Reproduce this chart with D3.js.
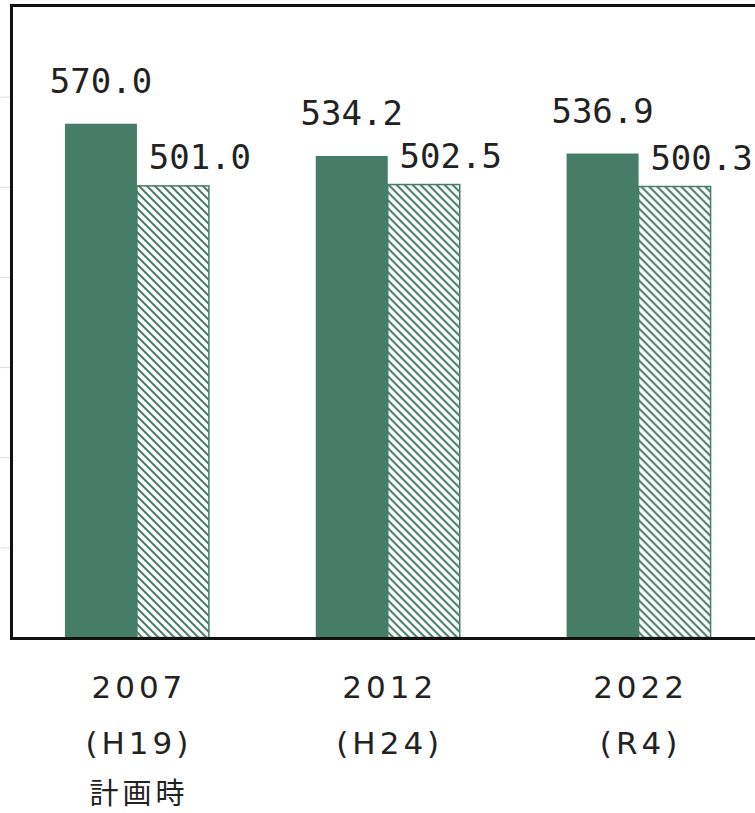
<!DOCTYPE html>
<html><head><meta charset="utf-8">
<script src="https://cdn.jsdelivr.net/npm/d3@7"></script>
<style>
html,body{margin:0;padding:0;background:#fff;}
svg{display:block;}
</style></head>
<body>
<svg id="chart" width="755" height="813"></svg>
<script>
const categories = ["2007", "2012", "2022"];
const catLine2 = ["(H19)", "(H24)", "(R4)"];
const catLine3 = ["計画時", "", ""];
const seriesNames = ["s1", "s2"];
const series1 = [570.0, 534.2, 536.9];
const series2 = [501.0, 502.5, 500.3];
const yTicks = [100, 200, 300, 400, 500, 600];
const yMax = 700;

const green = "#467d69";
const svg = d3.select("#chart");

const plot = {left: 11.5, right: 764, top: 6.5, bottom: 637.5};

const x0 = d3.scaleBand().domain(categories).range([plot.left, plot.right])
  .paddingInner(0.426).paddingOuter(0.213);
const x1 = d3.scaleBand().domain(seriesNames).range([0, x0.bandwidth()]).padding(0);
const y = d3.scaleLinear().domain([0, yMax]).range([plot.bottom, plot.top]);

// hatch pattern
const defs = svg.append("defs");
const pat = defs.append("pattern").attr("id", "hatch")
  .attr("patternUnits", "userSpaceOnUse").attr("width", 8).attr("height", 8);
pat.append("rect").attr("width", 8).attr("height", 8).attr("fill", "#fff");
pat.append("path").attr("d", "M0,0 L8,8 M-2,6 L2,10 M6,-2 L10,2")
  .attr("stroke", green).attr("stroke-width", 2).attr("fill", "none");

// left tick stubs (light gray)
const yAxis = d3.axisLeft(y).tickValues(yTicks).tickSize(11).tickFormat("");
const gy = svg.append("g").attr("transform", `translate(${plot.left},0)`).call(yAxis);
gy.select(".domain").remove();
gy.selectAll(".tick line").attr("stroke", "#dcdcdc").attr("stroke-width", 1);

const data = categories.map((c, i) => ({cat: c, vals: [
  {s: "s1", v: series1[i]}, {s: "s2", v: series2[i]}]}));

const groups = svg.append("g").selectAll("g").data(data).join("g")
  .attr("transform", d => `translate(${x0(d.cat)},0)`);

groups.selectAll("rect").data(d => d.vals).join("rect")
  .attr("x", d => x1(d.s))
  .attr("y", d => y(d.v))
  .attr("width", x1.bandwidth())
  .attr("height", d => y(0) - y(d.v))
  .attr("fill", d => d.s === "s1" ? green : "url(#hatch)")
  .attr("stroke", d => d.s === "s1" ? "none" : green)
  .attr("stroke-width", 1.5);

// value labels
const labelDx = {s1: 0, s2: 27};
const labelDy = {s1: -31, s2: -17};
groups.selectAll("text.val").data(d => d.vals).join("text")
  .attr("class", "val")
  .attr("x", d => x1(d.s) + x1.bandwidth() / 2 + labelDx[d.s])
  .attr("y", d => y(d.v) + labelDy[d.s])
  .attr("text-anchor", "middle")
  .attr("font-family", "'DejaVu Sans Mono', monospace")
  .attr("font-size", 34)
  .attr("fill", "#222")
  .text(d => d.v.toFixed(1));

// frame
svg.append("line").attr("x1", plot.left).attr("x2", 755).attr("y1", 5.5).attr("y2", 5.5)
  .attr("stroke", "#111").attr("stroke-width", 3);
svg.append("line").attr("x1", plot.left).attr("x2", plot.left).attr("y1", 4).attr("y2", 639)
  .attr("stroke", "#111").attr("stroke-width", 3);
svg.append("line").attr("x1", plot.left - 1.5).attr("x2", 755).attr("y1", 638.5).attr("y2", 638.5)
  .attr("stroke", "#111").attr("stroke-width", 3);

// category labels
const ls = 4;
const cat = svg.append("g").selectAll("text").data(categories).join("text")
  .attr("text-anchor", "middle")
  .attr("font-family", "'DejaVu Sans', 'Noto Sans CJK JP', sans-serif")
  .attr("font-size", 31)
  .attr("letter-spacing", ls)
  .attr("fill", "#222");
cat.each(function(c, i) {
  const t = d3.select(this);
  const cx = x0(c) + x0.bandwidth() / 2 + ls / 2;
  t.append("tspan").attr("x", cx).attr("y", 698).text(c);
  t.append("tspan").attr("x", cx).attr("y", 754).text(catLine2[i]);
  if (catLine3[i]) t.append("tspan").attr("x", cx).attr("y", 804)
    .attr("font-family", "'Noto Sans CJK JP', sans-serif").attr("font-size", 29).text(catLine3[i]);
});
</script>
</body></html>
